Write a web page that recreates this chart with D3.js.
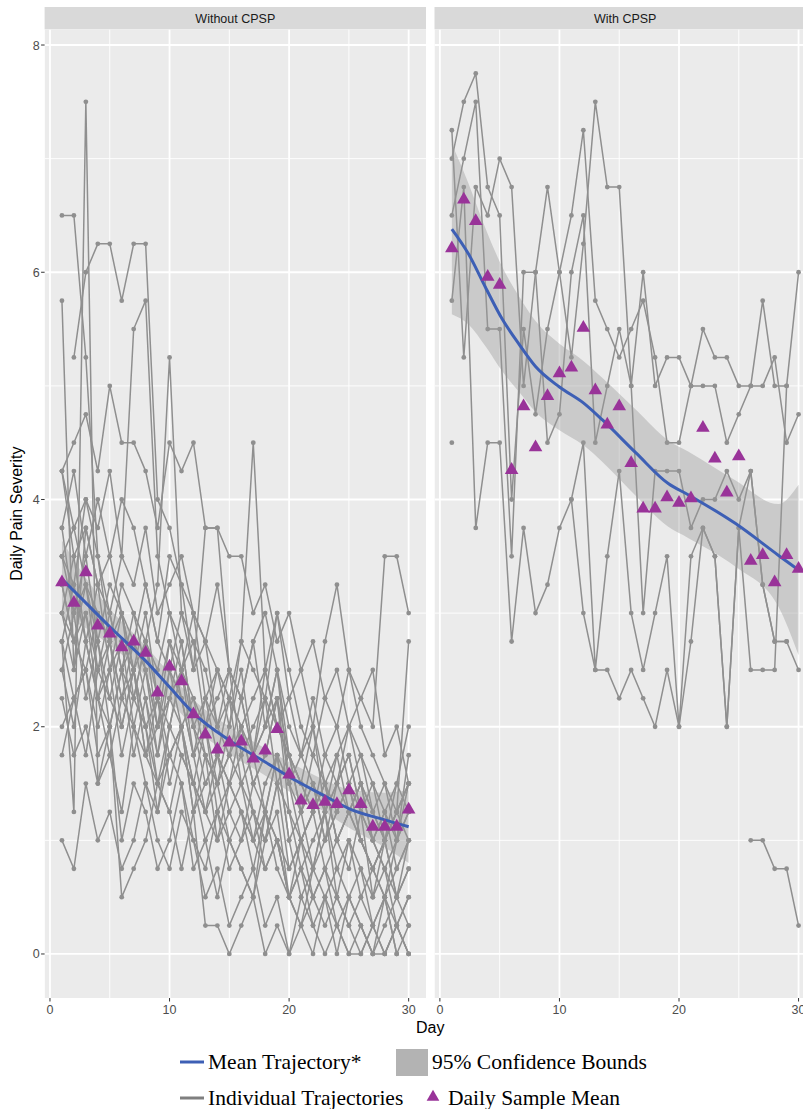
<!DOCTYPE html>
<html>
<head>
<meta charset="utf-8">
<script src="https://cdn.jsdelivr.net/npm/d3@7"></script>
<style>
  body { margin: 0; background: #fff; }
  text { font-family: "Liberation Sans", Arial, sans-serif; }
</style>
</head>
<body>
<div id="chart"></div>
<script>
var width = 803, height = 1109;

// ---- data ----
var days = [1,2,3,4,5,6,7,8,9,10,11,12,13,14,15,16,17,18,19,20,21,22,23,24,25,26,27,28,29,30];
var panelNames = ["Without CPSP", "With CPSP"];
var xTicks = [0, 10, 20, 30];
var xMinor = [5, 15, 25];
var yTicks = [0, 2, 4, 6, 8];
var yMinor = [1, 3, 5, 7];

// individual trajectories, one row per patient, value per day (null = missing)
var withoutTraj = [
  [6.5,6.5,5.25,3.5,2.75,3.0,2.5,2.0,2.25,1.75,2.0,1.5,1.25,1.5,1.0,1.25,1.0,0.75,1.0,0.5,0.75,0.5,0.25,0.5,0.25,0,0.25,0,0.25,0],
  [5.75,2.5,3.0,2.25,2.75,2.0,2.5,1.75,2.25,1.5,2.0,1.25,1.75,1.0,1.5,1.25,0.75,1.25,1.0,0.5,1.0,0.75,1.25,0.5,1.0,0.75,0.5,1.0,0.5,0.75],
  [null,5.25,6.0,6.25,6.25,5.75,6.25,6.25,4.0,3.75,3.25,3.0,2.75,3.25,2.5,2.25,2.75,2.0,2.5,1.75,1.5,2.0,1.25,1.5,1.75,1.25,1.5,1.0,1.25,1.5],
  [2.75,1.25,7.5,1.5,2.0,1.0,1.5,1.25,0.75,1.0,1.5,0.75,1.0,0.5,1.0,0.75,0.5,1.25,0.75,0.5,0.25,0.75,0.5,0,0.5,0.25,0,0.5,0,0.25],
  [3.5,3.25,4.0,3.75,4.25,3.5,5.5,5.75,3.5,3.0,2.5,2.75,2.0,2.25,2.5,1.75,2.0,2.25,1.5,1.75,1.25,1.5,1.0,1.25,1.5,1.0,0.75,1.0,1.25,1.0],
  [3.0,3.5,2.75,3.25,3.0,2.5,3.0,2.75,3.25,5.25,3.0,2.5,2.75,2.0,2.5,2.25,1.75,2.0,2.5,1.5,1.25,1.75,1.5,1.0,1.25,1.5,1.0,1.25,0.75,1.0],
  [3.75,3.0,3.5,2.75,3.25,3.0,2.5,3.0,2.25,2.75,2.5,3.0,2.25,2.5,2.0,2.75,4.5,2.5,3.0,2.25,1.75,2.0,1.5,1.75,2.0,1.5,1.25,1.0,1.5,1.25],
  [4.25,4.5,4.75,4.25,5.0,4.5,4.5,4.25,3.75,4.5,4.25,4.5,3.75,3.75,3.5,3.5,3.0,3.25,2.75,3.0,2.5,2.75,2.25,2.5,2.0,2.25,2.5,1.75,2.0,1.5],
  [3.25,2.75,3.0,2.5,2.75,2.25,2.5,2.75,2.25,2.0,2.5,2.25,2.0,2.5,2.25,2.0,2.25,2.5,2.0,2.25,2.5,2.0,2.75,3.25,2.5,2.25,2.0,3.5,3.5,3.0],
  [1.0,0.75,1.5,1.0,1.25,0.75,1.0,1.5,1.0,0.75,1.25,1.0,0.5,0.75,0.25,0.5,0.75,0.25,0.5,0,0.25,0,0.5,0.25,0,0.25,0,0,0.25,0],
  [2.0,2.25,2.5,2.0,2.5,1.75,2.25,2.0,1.5,2.0,1.75,1.5,2.0,1.25,1.5,1.75,1.25,1.0,1.5,1.25,0.75,1.0,1.25,0.75,1.0,0.5,0.75,1.0,0.5,0.75],
  [3.5,3.75,3.25,3.0,2.75,3.25,3.0,2.5,2.0,2.75,2.25,1.75,2.0,1.5,1.75,2.0,1.5,1.75,2.25,1.5,1.0,1.25,1.5,1.0,1.25,1.0,0.75,0.5,1.0,1.75],
  [2.5,3.0,2.25,2.75,2.0,2.5,2.75,2.25,1.75,2.5,2.0,1.5,1.25,1.75,1.5,1.25,1.0,1.5,1.75,1.0,1.25,0.75,1.0,1.25,1.5,1.0,0.75,0.5,0.75,1.0],
  [3.0,2.5,3.75,3.25,2.5,3.0,2.25,2.75,2.5,3.0,2.75,2.0,1.75,1.5,2.0,2.5,1.75,2.0,2.25,1.75,1.5,1.25,1.75,1.5,2.0,1.75,1.5,1.25,1.5,2.0],
  [2.25,1.75,2.0,1.5,1.75,1.25,2.0,1.5,1.25,1.75,1.5,1.0,0.75,1.25,1.0,0.75,0.5,1.0,1.25,0.5,0.75,0.25,0.5,0.75,0.5,0.25,0,0.25,0.5,0.25],
  [4.25,3.75,4.0,3.5,3.0,3.5,3.25,3.75,3.0,3.25,3.5,3.0,2.75,2.5,2.25,2.75,2.5,2.25,3.0,2.5,2.0,1.75,2.25,2.0,2.5,2.0,1.75,1.5,1.25,1.5],
  [2.75,3.25,2.75,2.25,2.5,2.75,2.0,2.5,1.75,2.25,2.0,2.25,1.75,1.5,1.75,1.5,1.25,1.0,1.5,0.75,1.0,1.25,0.75,1.0,0.75,1.25,1.0,0.75,0.5,1.0],
  [1.75,2.25,1.75,2.5,2.25,2.0,2.5,1.75,2.0,2.5,2.25,1.75,2.25,2.0,1.75,2.25,1.75,2.5,2.0,1.75,1.25,1.5,1.0,1.5,1.25,1.5,1.0,0.75,1.0,1.25],
  [3.25,2.75,2.5,3.0,2.75,2.25,2.75,2.5,2.0,2.25,2.75,2.0,1.5,1.75,2.25,1.5,1.75,1.25,1.75,1.5,1.75,1.5,1.25,1.75,1.25,1.5,1.25,1.0,1.25,1.5],
  [3.5,3.0,3.25,2.75,2.25,2.75,2.5,2.0,1.25,2.0,2.5,1.75,1.25,1.0,1.25,1.5,1.0,1.25,1.75,1.0,0.5,0.75,1.25,1.5,1.75,1.25,0.5,0.75,0.25,0.5],
  [2.75,2.25,2.5,1.75,2.0,0.5,0.75,1.0,1.5,1.25,0.75,1.25,0.25,0.25,0,0.25,0.5,0,0.25,0,0.5,0.25,0,0.25,0,0,0.25,0.5,0.25,0],
  [4.25,3.5,3.75,3.25,3.5,3.0,2.75,3.25,2.75,2.5,3.0,2.75,2.5,2.0,2.25,2.0,1.75,2.25,2.0,1.75,1.5,1.25,1.5,1.0,1.25,1.0,0.75,1.0,1.25,2.75],
  [null,null,null,2.25,2.0,2.5,1.75,2.25,1.5,1.75,2.0,1.25,1.5,1.75,1.25,1.0,1.5,1.25,1.0,0.75,1.0,0.5,0.75,0.25,0.5,0.75,0.25,0.5,0,null],
  [3.75,4.25,3.5,4.0,3.5,4.0,3.75,3.25,2.75,3.5,3.25,2.5,3.75,3.75,2.5,2.25,2.75,3.0,2.5,2.0,1.75,2.25,1.75,2.0,1.5,1.75,1.25,1.5,1.0,1.25],
  [2.5,2.0,2.75,2.25,1.75,2.25,2.0,1.75,1.5,1.25,1.75,1.5,1.0,1.25,0.75,1.0,1.25,0.75,1.0,0.5,0.25,0.5,0.75,0.5,0.25,0.5,0.25,0,0.25,0.5],
  [3.0,2.75,3.25,2.5,3.0,2.5,2.25,2.75,2.0,2.25,2.5,2.0,2.25,1.75,1.5,2.0,1.5,1.75,2.25,1.25,1.0,1.25,1.5,1.25,1.5,1.25,1.0,1.25,1.0,1.5]
];
var withTraj = [
  [7.25,5.25,6.75,6.5,7.0,6.75,5.0,6.0,6.75,6.0,5.25,6.25,7.5,6.75,6.75,5.0,6.0,5.0,5.25,5.25,5.0,5.5,5.25,5.25,5.0,5.0,5.75,5.0,5.0,6.0],
  [7.0,7.5,7.75,6.75,6.5,4.0,5.5,4.75,5.5,6.0,6.5,7.25,5.75,5.5,5.25,5.5,5.75,5.25,4.5,4.5,5.0,5.0,5.0,4.5,4.75,5.0,5.0,5.25,4.5,4.75],
  [6.5,7.0,7.5,5.5,5.5,3.5,6.0,6.0,4.5,4.75,6.0,6.5,4.5,5.0,5.5,5.0,3.0,4.25,4.25,4.25,3.75,4.0,4.0,4.25,4.0,4.25,3.25,2.75,2.75,2.5],
  [5.75,6.75,3.75,4.5,4.5,2.75,3.75,3.0,3.25,3.75,4.0,4.5,2.5,3.5,4.25,3.0,2.5,3.0,3.5,2.0,3.5,3.75,3.5,2.0,3.75,2.5,2.5,2.5,5.0,null],
  [null,null,null,null,null,null,null,null,null,null,4.0,3.0,2.5,2.5,2.25,2.5,2.25,2.0,2.5,2.0,2.75,3.75,3.5,2.0,3.75,4.25,3.25,2.75,2.75,null],
  [null,null,null,null,null,null,null,null,null,null,null,null,null,null,null,null,null,null,null,null,null,null,null,null,null,1.0,1.0,0.75,0.75,0.25],
  [4.5,null,null,null,null,null,null,null,null,null,null,null,null,null,null,null,null,null,null,null,null,null,null,null,null,null,null,null,null,null]
];

// daily sample means (triangles)
var withoutMean = [3.27,3.09,3.36,2.89,2.82,2.70,2.75,2.65,2.30,2.53,2.40,2.11,1.93,1.80,1.86,1.87,1.72,1.79,1.98,1.58,1.35,1.31,1.34,1.32,1.44,1.32,1.12,1.12,1.12,1.27];
var withMean = [6.21,6.64,6.45,5.96,5.89,4.26,4.82,4.46,4.91,5.11,5.16,5.51,4.96,4.66,4.82,4.32,3.92,3.92,4.02,3.97,4.01,4.63,4.36,4.06,4.38,3.46,3.51,3.27,3.51,3.39];

// smoothed mean trajectory and 95% bounds
var withoutFitDay = [1,3,5,8,10,12,15,18,20,23,25,28,30];
var withoutFit    = [3.30,3.09,2.88,2.58,2.35,2.12,1.88,1.69,1.56,1.39,1.28,1.18,1.12];
var withoutLow    = [2.96,2.87,2.72,2.45,2.23,2.00,1.76,1.57,1.43,1.25,1.11,0.94,0.80];
var withoutHigh   = [3.64,3.31,3.04,2.71,2.47,2.24,2.00,1.81,1.69,1.53,1.45,1.42,1.44];

var withFitDay = [1,2.4,3.8,5.2,6.6,8,10,12,13.6,16.4,19.1,20.8,24.7,28.3,30];
var withFit    = [6.38,6.16,5.87,5.59,5.37,5.17,4.99,4.85,4.70,4.41,4.14,4.04,3.79,3.51,3.38];
var withLow    = [5.63,5.54,5.35,5.13,4.95,4.77,4.61,4.48,4.33,4.03,3.76,3.66,3.41,3.06,2.63];
var withHigh   = [7.13,6.78,6.39,6.05,5.79,5.57,5.37,5.22,5.07,4.79,4.52,4.42,4.17,3.96,4.13];

var legendRows = [
  [{key: "line", color: "#3d5fb5", label: "Mean Trajectory*"}, {key: "rect", color: "#b3b3b3", label: "95% Confidence Bounds"}],
  [{key: "line", color: "#7f7f7f", label: "Individual Trajectories"}, {key: "tri", color: "#993399", label: "Daily Sample Mean"}]
];

// ---- layout ----
var panelTop = 29.4, panelBottom = 998, stripTop = 7;
var panelW = 381.4;
var panelLefts = [44.6, 434.5];

var y = d3.scaleLinear().domain([-0.3875, 8.1375]).range([panelBottom, panelTop]);

var svg = d3.select("#chart").append("svg")
  .attr("width", width)
  .attr("height", height)
  .style("background", "#fff");

var panelData = [
  {traj: withoutTraj, mean: withoutMean, fitDay: withoutFitDay, fit: withoutFit, low: withoutLow, high: withoutHigh},
  {traj: withTraj, mean: withMean, fitDay: withFitDay, fit: withFit, low: withLow, high: withHigh}
];

panelData.forEach(function(p, i) {
  var x0 = panelLefts[i];
  var x = d3.scaleLinear().domain([-0.45, 31.45]).range([x0, x0 + panelW]);

  // strip
  svg.append("rect")
    .attr("x", x0).attr("y", stripTop)
    .attr("width", panelW).attr("height", panelTop - stripTop)
    .attr("fill", "#d9d9d9");
  svg.append("text")
    .attr("x", x0 + panelW / 2).attr("y", (stripTop + panelTop) / 2 + 4.5)
    .attr("text-anchor", "middle")
    .attr("font-size", 12.5)
    .attr("fill", "#1a1a1a")
    .text(panelNames[i]);

  svg.append("clipPath").attr("id", "clip" + i)
    .append("rect").attr("x", x0).attr("y", panelTop)
    .attr("width", panelW).attr("height", panelBottom - panelTop);

  var g = svg.append("g").attr("clip-path", "url(#clip" + i + ")");

  g.append("rect")
    .attr("x", x0).attr("y", panelTop)
    .attr("width", panelW).attr("height", panelBottom - panelTop)
    .attr("fill", "#ebebeb");

  // grid
  g.selectAll(".xminor").data(xMinor).enter().append("line")
    .attr("x1", function(d) { return x(d); }).attr("x2", function(d) { return x(d); })
    .attr("y1", panelTop).attr("y2", panelBottom)
    .attr("stroke", "#fff").attr("stroke-width", 0.9);
  g.selectAll(".yminor").data(yMinor).enter().append("line")
    .attr("y1", function(d) { return y(d); }).attr("y2", function(d) { return y(d); })
    .attr("x1", x0).attr("x2", x0 + panelW)
    .attr("stroke", "#fff").attr("stroke-width", 0.9);
  g.selectAll(".xmajor").data(xTicks).enter().append("line")
    .attr("x1", function(d) { return x(d); }).attr("x2", function(d) { return x(d); })
    .attr("y1", panelTop).attr("y2", panelBottom)
    .attr("stroke", "#fff").attr("stroke-width", 1.8);
  g.selectAll(".ymajor").data(yTicks).enter().append("line")
    .attr("y1", function(d) { return y(d); }).attr("y2", function(d) { return y(d); })
    .attr("x1", x0).attr("x2", x0 + panelW)
    .attr("stroke", "#fff").attr("stroke-width", 1.8);

  // individual trajectories
  var line = d3.line()
    .defined(function(d) { return d.v !== null; })
    .x(function(d) { return x(d.day); })
    .y(function(d) { return y(d.v); });

  p.traj.forEach(function(row) {
    var pts = row.map(function(v, k) { return {day: days[k], v: v}; });
    g.append("path")
      .datum(pts)
      .attr("d", line)
      .attr("fill", "none")
      .attr("stroke", "#8f8f8f")
      .attr("stroke-width", 1.5);
    g.selectAll(null)
      .data(pts.filter(function(d) { return d.v !== null; }))
      .enter().append("circle")
      .attr("cx", function(d) { return x(d.day); })
      .attr("cy", function(d) { return y(d.v); })
      .attr("r", 2.4)
      .attr("fill", "#8f8f8f");
  });

  // confidence band
  var band = p.fitDay.map(function(d, k) { return {day: d, lo: p.low[k], hi: p.high[k], fit: p.fit[k]}; });
  g.append("path")
    .datum(band)
    .attr("d", d3.area()
      .curve(d3.curveMonotoneX)
      .x(function(d) { return x(d.day); })
      .y0(function(d) { return y(d.lo); })
      .y1(function(d) { return y(d.hi); }))
    .attr("fill", "#999")
    .attr("fill-opacity", 0.4);

  g.append("path")
    .datum(band)
    .attr("d", d3.line()
      .curve(d3.curveMonotoneX)
      .x(function(d) { return x(d.day); })
      .y(function(d) { return y(d.fit); }))
    .attr("fill", "none")
    .attr("stroke", "#3d5fb5")
    .attr("stroke-width", 3);

  // daily sample means
  var tri = d3.symbol().type(d3.symbolTriangle).size(80);
  g.selectAll(".tri")
    .data(p.mean)
    .enter().append("path")
    .attr("d", tri)
    .attr("transform", function(d, k) { return "translate(" + x(days[k]) + "," + y(d) + ")"; })
    .attr("fill", "#993399");

  // x axis
  var xa = svg.append("g");
  xa.selectAll("line").data(xTicks).enter().append("line")
    .attr("x1", function(d) { return x(d); }).attr("x2", function(d) { return x(d); })
    .attr("y1", panelBottom).attr("y2", panelBottom + 3.5)
    .attr("stroke", "#333").attr("stroke-width", 1);
  xa.selectAll("text").data(xTicks).enter().append("text")
    .attr("x", function(d) { return x(d); })
    .attr("y", panelBottom + 16)
    .attr("text-anchor", "middle")
    .attr("font-size", 12.5)
    .attr("fill", "#4d4d4d")
    .text(function(d) { return d; });
});

// y axis
var ya = svg.append("g");
ya.selectAll("line").data(yTicks).enter().append("line")
  .attr("x1", panelLefts[0] - 3.5).attr("x2", panelLefts[0])
  .attr("y1", function(d) { return y(d); }).attr("y2", function(d) { return y(d); })
  .attr("stroke", "#333").attr("stroke-width", 1);
ya.selectAll("text").data(yTicks).enter().append("text")
  .attr("x", panelLefts[0] - 5)
  .attr("y", function(d) { return y(d) + 4.5; })
  .attr("text-anchor", "end")
  .attr("font-size", 12.5)
  .attr("fill", "#4d4d4d")
  .text(function(d) { return d; });

// axis titles
svg.append("text")
  .attr("x", (panelLefts[0] + panelLefts[1] + panelW) / 2)
  .attr("y", panelBottom + 35)
  .attr("text-anchor", "middle")
  .attr("font-size", 16)
  .attr("fill", "#000")
  .text("Day");
svg.append("text")
  .attr("transform", "translate(22," + (panelTop + panelBottom) / 2 + ") rotate(-90)")
  .attr("text-anchor", "middle")
  .attr("font-size", 16)
  .attr("fill", "#000")
  .text("Daily Pain Severity");

// legend
var legendCols = [180, 396];
var legendY = [1062, 1098];
legendRows.forEach(function(row, r) {
  row.forEach(function(item, c) {
    var lx = legendCols[c], ly = legendY[r];
    var g = svg.append("g").attr("transform", "translate(" + lx + "," + ly + ")");
    var tx;
    if (item.key === "line") {
      g.append("line").attr("x1", 0).attr("x2", 24).attr("y1", 0).attr("y2", 0)
        .attr("stroke", item.color).attr("stroke-width", 3);
      tx = 28;
    } else if (item.key === "rect") {
      g.append("rect").attr("x", 0).attr("y", -13).attr("width", 32).attr("height", 27)
        .attr("fill", item.color);
      tx = 36;
    } else {
      g.append("path")
        .attr("d", d3.symbol().type(d3.symbolTriangle).size(70))
        .attr("transform", "translate(37,-1)")
        .attr("fill", item.color);
      tx = 52;
    }
    g.append("text")
      .attr("x", tx).attr("y", 7)
      .style("font-family", "'Liberation Serif', 'Times New Roman', serif")
      .attr("font-size", 21.5)
      .attr("fill", "#000")
      .text(item.label);
  });
});
</script>
</body>
</html>
